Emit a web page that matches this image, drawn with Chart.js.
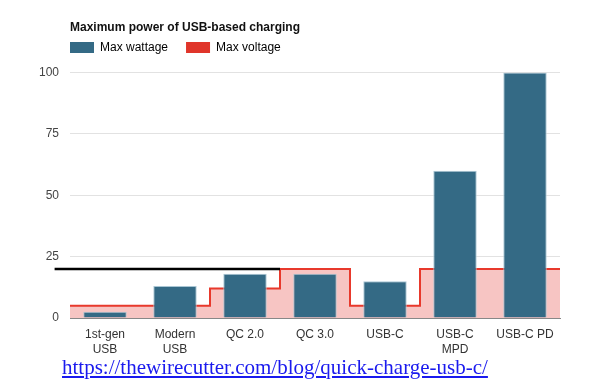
<!DOCTYPE html>
<html>
<head>
<meta charset="utf-8">
<script src="https://cdn.jsdelivr.net/npm/chart.js@4/dist/chart.umd.min.js"></script>
<style>
  html, body { margin: 0; padding: 0; background: #fff; }
  #wrap { position: relative; width: 600px; height: 380px; }
  #box { position: absolute; left: 0; top: 0; width: 600px; height: 366px; }
  #link { position: absolute; left: 62px; top: 355px; font-family: "Liberation Serif", "DejaVu Serif", serif; font-size: 21px; color: #1a1aee; text-decoration: underline; white-space: nowrap; }
</style>
</head>
<body>
<div id="wrap">
  <div id="box"><canvas id="c"></canvas></div>
  <a id="link" href="#">https://thewirecutter.com/blog/quick-charge-usb-c/</a>
</div>
<script>
const categories = [["1st-gen", "USB"], ["Modern", "USB"], "QC 2.0", "QC 3.0", "USB-C", ["USB-C", "MPD"], "USB-C PD"];
const maxWattage = [2.5, 13, 18, 18, 15, 60, 100];
const maxVoltage = [5, 5, 12, 20, 5, 20, 20];
const yTicks = [0, 25, 50, 75, 100];
const markLevel = 20;          // black reference line level
const markSpan = [-0.22, 3];   // in category units

const voltagePoints = maxVoltage.map((v, i) => ({ x: i, y: v }));
voltagePoints.push({ x: maxVoltage.length, y: maxVoltage[maxVoltage.length - 1] });

const font = "'Liberation Sans', Arial, Helvetica, sans-serif";
Chart.defaults.font.family = font;
Chart.defaults.color = '#333';

const legendShift = {
  id: 'legendShift',
  afterLayout(chart) {
    const lg = chart.legend;
    if (!lg) return;
    const dx = -lg.options.labels.padding;
    const dy = -9;
    lg.left += dx; lg.right += dx;
    lg.top += dy; lg.bottom += dy;
  }
};

new Chart(document.getElementById('c'), {
  type: 'bar',
  plugins: [legendShift],
  data: {
    labels: categories,
    datasets: [
      {
        label: 'Max wattage',
        data: maxWattage,
        backgroundColor: '#346a85',
        borderColor: '#a9c6d4',
        borderWidth: 1,
        grouped: false,
        categoryPercentage: 1,
        barPercentage: 0.62,
        order: 1,
        legendColor: '#346a85'
      },
      {
        type: 'line',
        label: 'Max voltage',
        data: voltagePoints,
        xAxisID: 'x2',
        stepped: true,
        borderColor: '#e8392c',
        borderWidth: 2,
        backgroundColor: 'rgba(241,150,145,0.55)',
        fill: 'origin',
        pointRadius: 0,
        order: 2,
        legendColor: '#e0352a'
      },
      {
        type: 'line',
        label: 'mark',
        data: markSpan.map(x => ({ x: x, y: markLevel })),
        xAxisID: 'x2',
        borderColor: '#000',
        borderWidth: 2.5,
        pointRadius: 0,
        fill: false,
        clip: false,
        order: 0
      }
    ]
  },
  options: {
    responsive: true,
    maintainAspectRatio: false,
    animation: false,
    layout: { padding: { top: 20, right: 40, bottom: 0, left: 0 } },
    plugins: {
      title: {
        display: true,
        text: 'Maximum power of USB-based charging',
        align: 'start',
        fullSize: false,
        color: '#111',
        font: { size: 12, weight: 'bold', family: font },
        padding: { top: 0, bottom: -2 }
      },
      legend: {
        display: true,
        align: 'start',
        fullSize: false,
        labels: {
          boxWidth: 24,
          boxHeight: 11,
          padding: 18,
          color: '#222',
          font: { size: 12, family: font },
          generateLabels: (chart) => chart.data.datasets
            .map((ds, i) => ({ ds, i }))
            .filter(o => o.ds.legendColor)
            .map(o => ({
              text: o.ds.label,
              fillStyle: o.ds.legendColor,
              strokeStyle: o.ds.legendColor,
              lineWidth: 0,
              datasetIndex: o.i,
              hidden: false
            }))
        }
      },
      tooltip: { enabled: false }
    },
    scales: {
      x: {
        type: 'category',
        offset: true,
        grid: { display: false, drawTicks: false },
        border: { display: true, color: '#888', width: 1 },
        ticks: { color: '#333', font: { size: 12, family: font, lineHeight: 1.25 }, padding: 9, maxRotation: 0, autoSkip: false }
      },
      x2: {
        type: 'linear',
        display: false,
        offset: false,
        grid: { offset: false },
        min: 0,
        max: categories.length
      },
      y: {
        min: 0,
        max: 100,
        afterBuildTicks: (s) => { s.ticks = yTicks.map(v => ({ value: v })); },
        afterFit: (s) => { s.width = 70; },
        grid: { color: '#e2e2e2', drawTicks: false },
        border: { display: false },
        ticks: { color: '#444', font: { size: 12, family: font }, padding: 11 }
      }
    }
  }
});
</script>
</body>
</html>
